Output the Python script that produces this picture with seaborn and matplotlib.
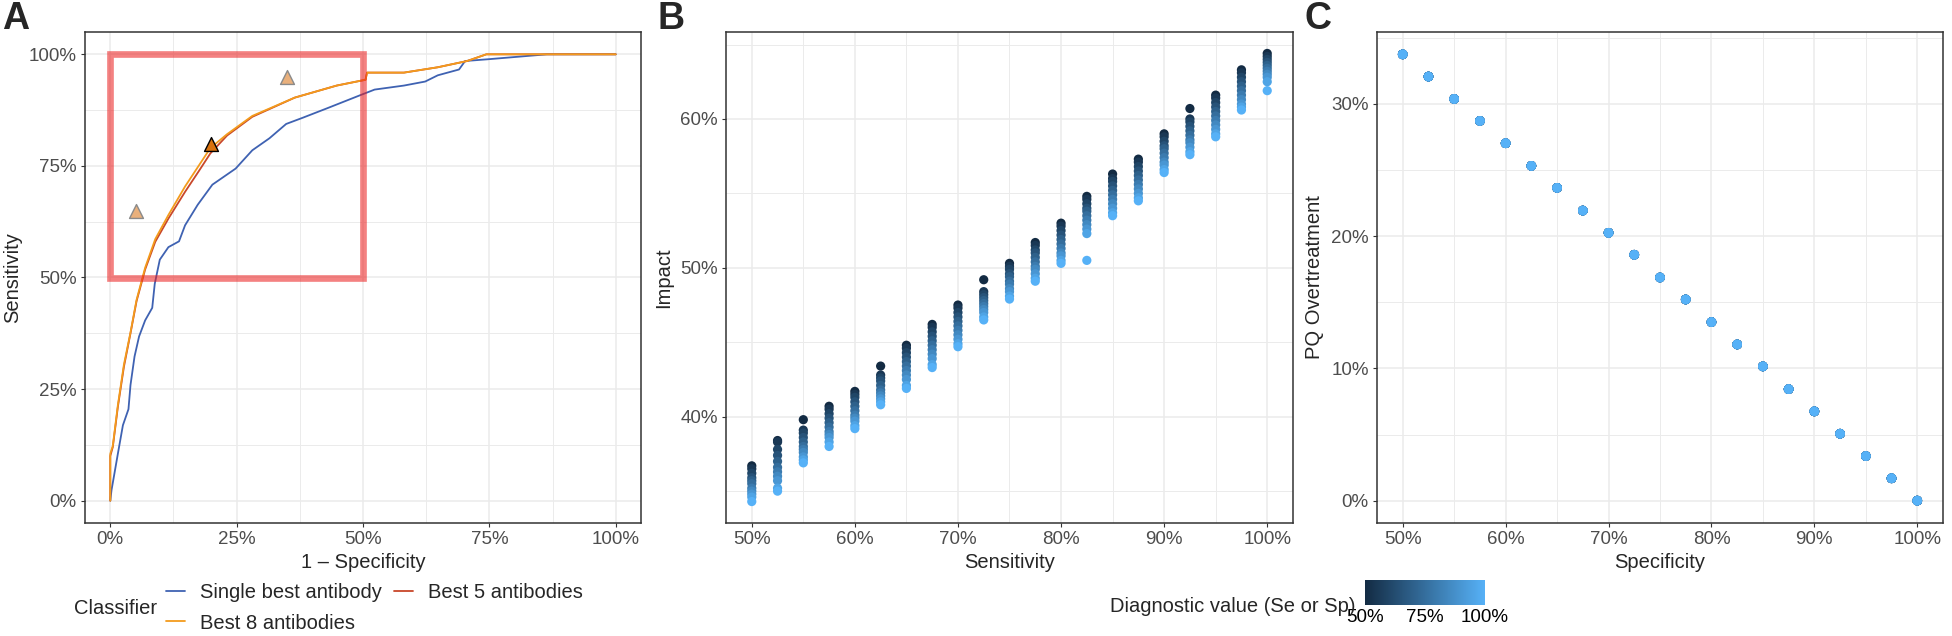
import numpy as np
import pandas as pd
import matplotlib
matplotlib.use('Agg')
import matplotlib.pyplot as plt
from matplotlib.colors import LinearSegmentedColormap, Normalize
from matplotlib.cm import ScalarMappable
from matplotlib.lines import Line2D
from matplotlib.patches import Rectangle
from matplotlib.ticker import PercentFormatter, MultipleLocator
import seaborn as sns

# --- panel A: ROC curves (x = 1 - specificity, y = sensitivity) ---
single_fpr = [0.0, 0.0025, 0.0067, 0.015, 0.025, 0.036, 0.040, 0.048, 0.057, 0.069, 0.083, 0.088,
              0.098, 0.115, 0.136, 0.148, 0.173, 0.202, 0.248, 0.281, 0.315, 0.348, 0.381, 0.431,
              0.498, 0.523, 0.581, 0.623, 0.648, 0.690, 0.702, 0.748, 0.864, 1.0]
single_tpr = [0.0, 0.024, 0.051, 0.105, 0.169, 0.205, 0.259, 0.323, 0.368, 0.404, 0.432, 0.486,
              0.540, 0.568, 0.581, 0.617, 0.663, 0.708, 0.744, 0.785, 0.812, 0.844, 0.858, 0.880,
              0.910, 0.921, 0.930, 0.939, 0.953, 0.966, 0.985, 0.989, 1.0, 1.0]

best5_fpr = [0.0, 0.0, 0.005, 0.015, 0.027, 0.040, 0.052, 0.069, 0.089, 0.115, 0.148, 0.175,
             0.198, 0.231, 0.281, 0.365, 0.448, 0.505, 0.508, 0.581, 0.648, 0.706, 0.744, 1.0]
best5_tpr = [0.0, 0.100, 0.120, 0.210, 0.300, 0.375, 0.447, 0.518, 0.580, 0.632, 0.692, 0.738,
             0.778, 0.818, 0.860, 0.903, 0.930, 0.943, 0.959, 0.959, 0.971, 0.985, 1.0, 1.0]

best8_fpr = [0.0, 0.0, 0.005, 0.015, 0.027, 0.040, 0.052, 0.069, 0.089, 0.115, 0.148, 0.198,
             0.231, 0.281, 0.365, 0.448, 0.505, 0.508, 0.581, 0.648, 0.706, 0.744, 1.0]
best8_tpr = [0.0, 0.105, 0.123, 0.214, 0.305, 0.377, 0.450, 0.522, 0.586, 0.640, 0.704, 0.790,
             0.821, 0.862, 0.903, 0.930, 0.943, 0.959, 0.959, 0.971, 0.985, 1.0, 1.0]

classifiers = ['Single best antibody', 'Best 5 antibodies', 'Best 8 antibodies']

target_fpr = [0.05, 0.35, 0.20]
target_tpr = [0.65, 0.95, 0.80]

# --- panel B: impact by sensitivity, one value per specificity level (50% .. 100%) ---
spec_levels = [0.50, 0.55, 0.60, 0.65, 0.70, 0.75, 0.80, 0.85, 0.90, 0.95, 1.00]
sens_values = [0.500, 0.525, 0.550, 0.575, 0.600, 0.625, 0.650, 0.675, 0.700, 0.725, 0.750,
               0.775, 0.800, 0.825, 0.850, 0.875, 0.900, 0.925, 0.950, 0.975, 1.000]
impact = [
    [0.367, 0.365, 0.362, 0.359, 0.357, 0.355, 0.352, 0.350, 0.348, 0.346, 0.343],
    [0.384, 0.383, 0.378, 0.374, 0.370, 0.366, 0.363, 0.360, 0.357, 0.352, 0.350],
    [0.398, 0.391, 0.389, 0.386, 0.383, 0.380, 0.378, 0.376, 0.373, 0.371, 0.369],
    [0.407, 0.405, 0.402, 0.399, 0.396, 0.393, 0.390, 0.388, 0.386, 0.383, 0.380],
    [0.417, 0.415, 0.413, 0.410, 0.407, 0.404, 0.401, 0.399, 0.397, 0.394, 0.392],
    [0.434, 0.428, 0.426, 0.424, 0.421, 0.418, 0.416, 0.414, 0.412, 0.410, 0.408],
    [0.448, 0.446, 0.443, 0.440, 0.437, 0.434, 0.431, 0.428, 0.425, 0.421, 0.419],
    [0.462, 0.460, 0.457, 0.454, 0.451, 0.448, 0.445, 0.442, 0.439, 0.435, 0.433],
    [0.475, 0.473, 0.470, 0.467, 0.464, 0.461, 0.458, 0.455, 0.452, 0.449, 0.447],
    [0.492, 0.484, 0.482, 0.480, 0.478, 0.476, 0.474, 0.472, 0.470, 0.467, 0.465],
    [0.503, 0.501, 0.499, 0.496, 0.494, 0.491, 0.489, 0.486, 0.484, 0.481, 0.479],
    [0.517, 0.515, 0.512, 0.510, 0.507, 0.504, 0.501, 0.499, 0.496, 0.493, 0.491],
    [0.530, 0.528, 0.525, 0.522, 0.519, 0.516, 0.513, 0.510, 0.508, 0.505, 0.503],
    [0.548, 0.546, 0.543, 0.540, 0.538, 0.535, 0.532, 0.529, 0.526, 0.523, 0.505],
    [0.563, 0.560, 0.558, 0.555, 0.552, 0.549, 0.546, 0.543, 0.540, 0.537, 0.535],
    [0.573, 0.571, 0.568, 0.565, 0.562, 0.559, 0.556, 0.553, 0.550, 0.547, 0.545],
    [0.590, 0.588, 0.585, 0.582, 0.580, 0.577, 0.574, 0.571, 0.569, 0.566, 0.564],
    [0.607, 0.600, 0.598, 0.595, 0.592, 0.589, 0.586, 0.584, 0.581, 0.578, 0.576],
    [0.616, 0.614, 0.611, 0.608, 0.605, 0.602, 0.599, 0.596, 0.593, 0.590, 0.588],
    [0.633, 0.631, 0.628, 0.625, 0.622, 0.619, 0.616, 0.613, 0.610, 0.608, 0.606],
    [0.644, 0.642, 0.640, 0.638, 0.636, 0.634, 0.632, 0.630, 0.628, 0.625, 0.619],
]

# --- panel C: PQ overtreatment by specificity (same for every sensitivity) ---
spec_values = sens_values
pq_overtreatment = [0.3374, 0.3206, 0.3037, 0.2871, 0.2702, 0.2531, 0.2365, 0.2193, 0.2025,
                    0.1859, 0.1687, 0.1521, 0.1350, 0.1181, 0.1015, 0.0843, 0.0675, 0.0506,
                    0.0337, 0.0169, 0.0]
sens_levels = spec_levels

# ---------------- data frames ----------------
roc_df = pd.concat([
    pd.DataFrame({'fpr': single_fpr, 'tpr': single_tpr, 'Classifier': classifiers[0]}),
    pd.DataFrame({'fpr': best5_fpr, 'tpr': best5_tpr, 'Classifier': classifiers[1]}),
    pd.DataFrame({'fpr': best8_fpr, 'tpr': best8_tpr, 'Classifier': classifiers[2]}),
], ignore_index=True)

impact_rows = []
for j, sp in enumerate(spec_levels):
    for i, se in enumerate(sens_values):
        impact_rows.append({'sens': se, 'spec': sp, 'impact': impact[i][j]})
impact_df = pd.DataFrame(impact_rows)

pq_rows = []
for se in sens_levels:
    for sp, pq in zip(spec_values, pq_overtreatment):
        pq_rows.append({'spec': sp, 'sens': se, 'pq': pq})
pq_df = pd.DataFrame(pq_rows)

# ---------------- style ----------------
sns.set_style('white')
plt.rcParams['font.family'] = ['Liberation Sans', 'DejaVu Sans']

W, H = 1952, 636
TICK = 13.5
TITLE = 14.5
grid_col = '#EBEBEB'
line_colors = {'Single best antibody': '#3F62B2', 'Best 5 antibodies': '#C8472A', 'Best 8 antibodies': '#F39B1C'}
cmap = LinearSegmentedColormap.from_list('gg', ['#132B43', '#56B1F7'])
norm = Normalize(0.5, 1.0)
pal = {v: cmap(norm(v)) for v in spec_levels}

fig = plt.figure(figsize=(W / 100, H / 100), dpi=100)


def px_axes(x0, x1, y0, y1):
    return fig.add_axes([x0 / W, 1 - y1 / H, (x1 - x0) / W, (y1 - y0) / H])


def style_axes(ax, xmaj, xmin, ymaj, ymin):
    ax.xaxis.set_major_locator(MultipleLocator(xmaj))
    ax.xaxis.set_minor_locator(MultipleLocator(xmin))
    ax.yaxis.set_major_locator(MultipleLocator(ymaj))
    ax.yaxis.set_minor_locator(MultipleLocator(ymin))
    ax.xaxis.set_major_formatter(PercentFormatter(1.0, decimals=0))
    ax.yaxis.set_major_formatter(PercentFormatter(1.0, decimals=0))
    ax.grid(True, which='major', color=grid_col, lw=1.1, zorder=0)
    ax.grid(True, which='minor', color=grid_col, lw=0.7, zorder=0)
    ax.set_axisbelow(True)
    for s in ax.spines.values():
        s.set_color('#333333')
        s.set_linewidth(1.1)
    ax.tick_params(which='major', direction='out', length=3, width=0.8, color='#333333',
                   labelsize=TICK, labelcolor='#4D4D4D', pad=3, bottom=True, left=True)
    ax.tick_params(which='minor', length=0)


# ---------------- panel A ----------------
axA = px_axes(85, 641, 32, 523)
sns.lineplot(data=roc_df, x='fpr', y='tpr', hue='Classifier', hue_order=classifiers,
             palette=line_colors, estimator=None, sort=False, lw=1.3, legend=False, ax=axA)
axA.add_patch(Rectangle((0, 0.5), 0.5, 0.5, fill=False, ec=(0.92, 0.1, 0.1, 0.55), lw=4.8, zorder=3))
axA.scatter(target_fpr[:2], target_tpr[:2], marker='^', s=100, c='#E9B07C', edgecolors='#8A8A8A',
            linewidths=1.0, zorder=4)
axA.scatter(target_fpr[2:], target_tpr[2:], marker='^', s=100, c='#D9720E', edgecolors='black',
            linewidths=1.0, zorder=4)
axA.set_xlim(-0.05, 1.05)
axA.set_ylim(-0.05, 1.05)
style_axes(axA, 0.25, 0.125, 0.25, 0.125)
axA.set_xlabel('1 \u2013 Specificity', fontsize=TITLE, labelpad=3)
axA.set_ylabel('Sensitivity', fontsize=TITLE, labelpad=5)

# ---------------- panel B ----------------
axB = px_axes(726, 1293, 32, 523)
sns.scatterplot(data=impact_df, x='sens', y='impact', hue='spec', palette=pal,
                s=44, linewidth=0, legend=False, ax=axB, zorder=3)
axB.set_xlim(0.475, 1.025)
axB.set_ylim(0.3286, 0.6584)
style_axes(axB, 0.1, 0.05, 0.1, 0.05)
axB.set_xlabel('Sensitivity', fontsize=TITLE, labelpad=3)
axB.set_ylabel('Impact', fontsize=TITLE, labelpad=5)

# ---------------- panel C ----------------
axC = px_axes(1377, 1943, 32, 523)
sns.scatterplot(data=pq_df, x='spec', y='pq', hue='sens', palette=pal,
                s=48, linewidth=0, legend=False, ax=axC, zorder=3)
axC.set_xlim(0.475, 1.025)
axC.set_ylim(-0.0169, 0.3543)
style_axes(axC, 0.1, 0.05, 0.1, 0.05)
axC.set_xlabel('Specificity', fontsize=TITLE, labelpad=3)
axC.set_ylabel('PQ Overtreatment', fontsize=TITLE, labelpad=5)

# panel letters
for lab, x in [('A', 2), ('B', 657), ('C', 1304)]:
    fig.text(x / W, 1 - 1 / H, lab, fontsize=27, fontweight='bold', va='top', ha='left')

# ---------------- legends ----------------
handles = [Line2D([0], [0], color=line_colors[c], lw=1.3) for c in
           ['Single best antibody', 'Best 8 antibodies', 'Best 5 antibodies']]
labels = ['Single best antibody', 'Best 8 antibodies', 'Best 5 antibodies']
fig.text(74 / W, 1 - 608 / H, 'Classifier', fontsize=TITLE, va='center', ha='left')
fig.legend(handles, labels, ncol=2, loc='center left', bbox_to_anchor=(166 / W, 1 - 608 / H),
           frameon=False, fontsize=TITLE, handlelength=0.95, handletextpad=0.75,
           columnspacing=0.6, labelspacing=0.55, borderpad=0, borderaxespad=0)

cax = px_axes(1365, 1485, 580, 605)
cb = fig.colorbar(ScalarMappable(norm=norm, cmap=cmap), cax=cax, orientation='horizontal')
cb.outline.set_visible(False)
cb.set_ticks([0.5, 0.75, 1.0])
cb.ax.xaxis.set_major_formatter(PercentFormatter(1.0, decimals=0))
cax.tick_params(axis='x', direction='in', color='white', length=5, width=1.0,
                top=True, bottom=True, labelsize=TICK, labelcolor='black', pad=3)
fig.text(1355 / W, 1 - 607 / H, 'Diagnostic value (Se or Sp)', fontsize=TITLE, va='center', ha='right')

fig.savefig('out.png', dpi=100)
